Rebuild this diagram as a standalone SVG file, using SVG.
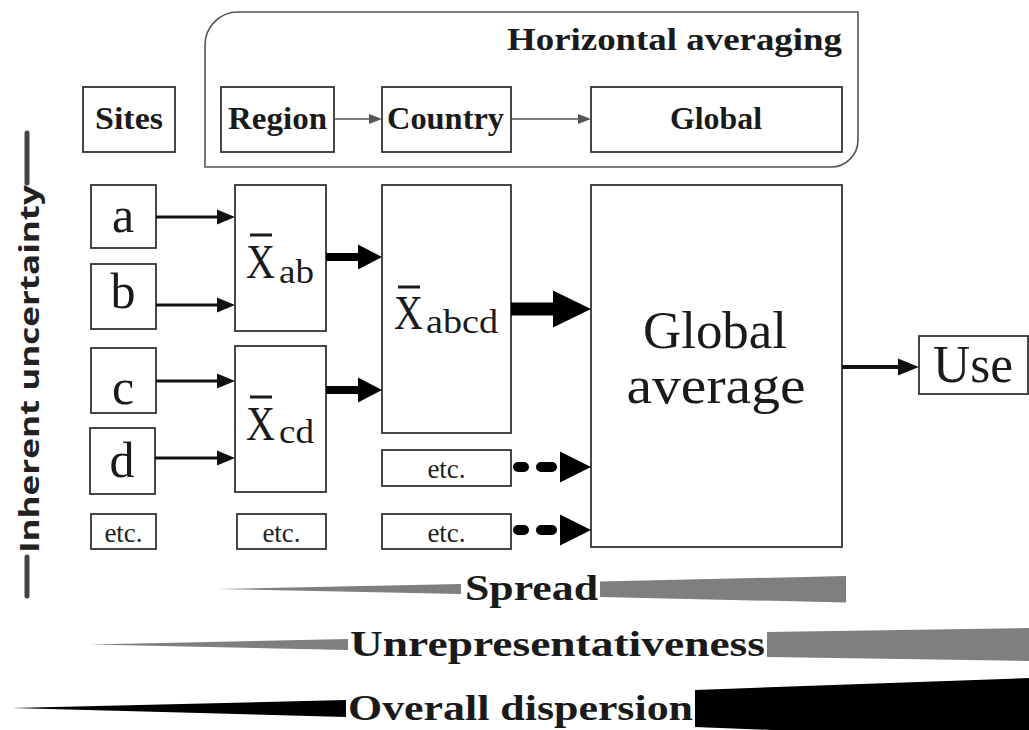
<svg xmlns="http://www.w3.org/2000/svg" width="1029" height="730" viewBox="0 0 1029 730">
<style>
.box{fill:#fff;stroke:#333;stroke-width:1.8}
.hb{font-family:"Liberation Serif",serif;font-weight:bold;fill:#1a1a1a}
.sr{font-family:"Liberation Serif",serif;fill:#1a1a1a}
.etc{font-family:"Liberation Serif",serif;font-size:27px;fill:#222;text-anchor:middle}
.big{font-family:"Liberation Serif",serif;font-size:50px;fill:#1a1a1a;text-anchor:middle}
.thin{stroke:#111;stroke-width:3;fill:none}
.med{stroke:#000;stroke-width:8;fill:none}
.grey{stroke:#555;stroke-width:1.6;fill:none}
</style>
<defs>
<marker id="mThin" markerUnits="userSpaceOnUse" orient="auto" refX="0" refY="0" overflow="visible"><path d="M0,-7.5 L18,0 L0,7.5 z" fill="#111"/></marker>
<marker id="mMed" markerUnits="userSpaceOnUse" orient="auto" refX="0" refY="0" overflow="visible"><path d="M0,-12.5 L24,0 L0,12.5 z" fill="#000"/></marker>
<marker id="mBig" markerUnits="userSpaceOnUse" orient="auto" refX="0" refY="0" overflow="visible"><path d="M0,-18.5 L38,0 L0,18.5 z" fill="#000"/></marker>
<marker id="mDash" markerUnits="userSpaceOnUse" orient="auto" refX="-8" refY="0" overflow="visible"><path d="M0,-15.5 L31,0 L0,15.5 z" fill="#000"/></marker>
<marker id="mUse" markerUnits="userSpaceOnUse" orient="auto" refX="0" refY="0" overflow="visible"><path d="M0,-8.5 L21,0 L0,8.5 z" fill="#111"/></marker>
<marker id="mGrey" markerUnits="userSpaceOnUse" orient="auto" refX="0" refY="0" overflow="visible"><path d="M0,-5 L13,0 L0,5 z" fill="#555"/></marker>
</defs>
<rect width="1029" height="730" fill="#fff"/>

<g id="horizontal-averaging">
<path d="M205,167 V45 A33,33 0 0 1 238,12 H858 V140 A27,27 0 0 1 831,167 Z" fill="none" stroke="#555" stroke-width="1.6"/>
<text class="hb" x="507" y="50" font-size="32" textLength="335" lengthAdjust="spacingAndGlyphs">Horizontal averaging</text>
</g>
<g id="sites"><rect class="box" x="83" y="87" width="92" height="65"/><text class="hb" x="95" y="129" font-size="31" textLength="68" lengthAdjust="spacingAndGlyphs">Sites</text></g>
<g id="region"><rect class="box" x="221" y="87" width="113" height="65"/><text class="hb" x="228" y="129" font-size="31" textLength="99" lengthAdjust="spacingAndGlyphs">Region</text></g>
<g id="country"><rect class="box" x="382" y="87" width="129" height="65"/><text class="hb" x="387" y="129" font-size="31" textLength="117" lengthAdjust="spacingAndGlyphs">Country</text></g>
<g id="global"><rect class="box" x="591" y="87" width="251" height="65"/><text class="hb" x="670" y="129" font-size="31" textLength="92" lengthAdjust="spacingAndGlyphs">Global</text></g>

<g id="inherent-uncertainty">
<line x1="27" y1="133" x2="27" y2="183" stroke="#444" stroke-width="5" stroke-linecap="round"/>
<line x1="27" y1="557" x2="27" y2="596" stroke="#444" stroke-width="5" stroke-linecap="round"/>
<text transform="translate(39,553) rotate(-90)" font-family="'Open Sans','Liberation Sans',sans-serif" font-weight="bold" font-size="26" fill="#222" textLength="368" lengthAdjust="spacingAndGlyphs">Inherent uncertainty</text>
</g>

<g id="site-a"><rect class="box" x="91" y="185" width="65" height="63"/><text class="big" x="123" y="232">a</text></g>
<g id="site-b"><rect class="box" x="91" y="264" width="65" height="65"/><text class="big" x="123" y="308">b</text></g>
<g id="site-c"><rect class="box" x="91" y="348" width="65" height="65"/><text class="big" x="123" y="404">c</text></g>
<g id="site-d"><rect class="box" x="90" y="428" width="65" height="66"/><text class="big" x="122" y="477">d</text></g>
<g id="site-etc"><rect class="box" x="91" y="514" width="65" height="35"/><text class="etc" x="123.5" y="542">etc.</text></g>

<g id="xab"><rect class="box" x="235" y="185" width="91" height="146"/>
<line x1="250" y1="235" x2="272" y2="235" stroke="#1a1a1a" stroke-width="3"/>
<text class="sr" x="246" y="278" font-size="48" textLength="29" lengthAdjust="spacingAndGlyphs">X</text>
<text class="sr" x="279" y="283" font-size="34" textLength="35" lengthAdjust="spacingAndGlyphs">ab</text></g>
<g id="xcd"><rect class="box" x="235" y="346" width="91" height="146"/>
<line x1="250" y1="397" x2="272" y2="397" stroke="#1a1a1a" stroke-width="3"/>
<text class="sr" x="246" y="440" font-size="48" textLength="29" lengthAdjust="spacingAndGlyphs">X</text>
<text class="sr" x="279" y="443" font-size="34" textLength="35" lengthAdjust="spacingAndGlyphs">cd</text></g>
<g id="region-etc"><rect class="box" x="237" y="514" width="89" height="35"/><text class="etc" x="281.5" y="542">etc.</text></g>

<g id="xabcd"><rect class="box" x="382" y="185" width="129" height="248"/>
<line x1="398" y1="287" x2="420" y2="287" stroke="#1a1a1a" stroke-width="3"/>
<text class="sr" x="394" y="329" font-size="48" textLength="29" lengthAdjust="spacingAndGlyphs">X</text>
<text class="sr" x="426" y="333" font-size="34" textLength="72" lengthAdjust="spacingAndGlyphs">abcd</text></g>
<g id="country-etc-1"><rect class="box" x="382" y="450" width="129" height="36"/><text class="etc" x="446.5" y="478">etc.</text></g>
<g id="country-etc-2"><rect class="box" x="382" y="514" width="129" height="35"/><text class="etc" x="446.5" y="542">etc.</text></g>

<g id="global-average"><rect class="box" x="591" y="185" width="251" height="362"/>
<text class="sr" x="715" y="348" font-size="52" text-anchor="middle" textLength="144" lengthAdjust="spacingAndGlyphs">Global</text>
<text class="sr" x="716" y="403" font-size="52" text-anchor="middle" textLength="179" lengthAdjust="spacingAndGlyphs">average</text></g>
<g id="use"><rect class="box" x="919" y="336" width="109" height="58"/><text class="sr" x="933" y="382" font-size="53" textLength="80" lengthAdjust="spacingAndGlyphs">Use</text></g>

<g id="connectors">
<line class="grey" x1="334" y1="119" x2="369" y2="119" marker-end="url(#mGrey)"/>
<line class="grey" x1="511" y1="119" x2="578" y2="119" marker-end="url(#mGrey)"/>
<line class="thin" x1="156" y1="217" x2="217" y2="217" marker-end="url(#mThin)"/>
<line class="thin" x1="156" y1="305" x2="217" y2="305" marker-end="url(#mThin)"/>
<line class="thin" x1="156" y1="381" x2="217" y2="381" marker-end="url(#mThin)"/>
<line class="thin" x1="155" y1="458" x2="217" y2="458" marker-end="url(#mThin)"/>
<line class="med" x1="326" y1="257" x2="358" y2="257" marker-end="url(#mMed)"/>
<line class="med" x1="326" y1="390" x2="358" y2="390" marker-end="url(#mMed)"/>
<line x1="511" y1="309" x2="553" y2="309" stroke="#000" stroke-width="13" marker-end="url(#mBig)"/>
<line x1="518" y1="467" x2="552" y2="467" stroke="#000" stroke-width="10" stroke-linecap="round" stroke-dasharray="6 17 11 100" marker-end="url(#mDash)"/>
<line x1="518" y1="530" x2="552" y2="530" stroke="#000" stroke-width="10" stroke-linecap="round" stroke-dasharray="6 17 11 100" marker-end="url(#mDash)"/>
<line x1="842" y1="367" x2="898" y2="367" stroke="#111" stroke-width="4" marker-end="url(#mUse)"/>
</g>

<g id="spread">
<polygon points="218,589 461,584 461,594" fill="#7f7f7f"/>
<polygon points="600,581.5 846,576 846,602.5 600,597" fill="#7f7f7f"/>
<text class="hb" x="465" y="600" font-size="35" textLength="133" lengthAdjust="spacingAndGlyphs">Spread</text>
</g>
<g id="unrepresentativeness">
<polygon points="90,644.5 348,639 348,650" fill="#7f7f7f"/>
<polygon points="767,632 1029,628 1029,661 767,657" fill="#7f7f7f"/>
<text class="hb" x="350" y="656" font-size="36" textLength="415" lengthAdjust="spacingAndGlyphs">Unrepresentativeness</text>
</g>
<g id="overall-dispersion">
<polygon points="12,708 346,700 346,717" fill="#000"/>
<polygon points="695,690 1029,678 1029,740 695,727" fill="#000"/>
<text class="hb" x="348" y="720" font-size="36" textLength="345" lengthAdjust="spacingAndGlyphs">Overall dispersion</text>
</g>
</svg>
